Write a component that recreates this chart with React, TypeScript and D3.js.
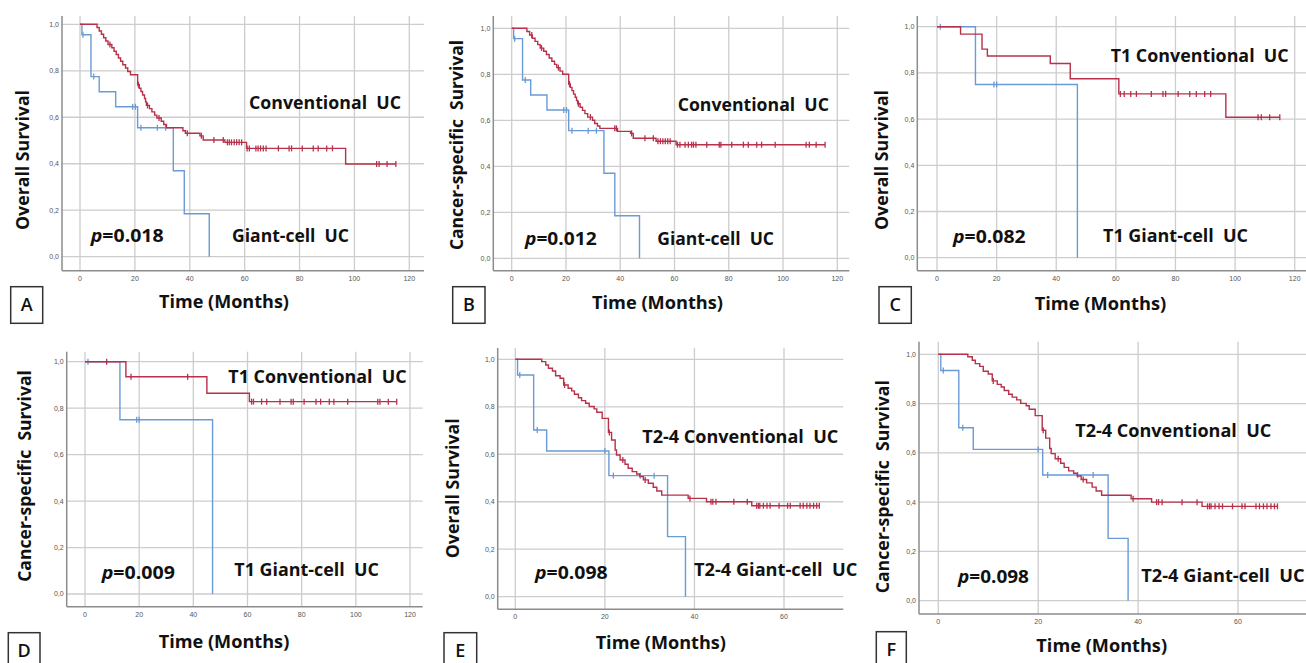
import React from "react";
import * as d3 from "d3";

type Step = [number, number];

// Giant-cell UC, all stages (A, B)
const giantSteps: Step[] = [[0, 1], [0.7, 0.955], [4, 0.775], [7, 0.71], [13, 0.645], [21, 0.555], [34, 0.37], [38, 0.185], [47.1, 0]];
const giantCensored = [1.1, 5, 19.2, 20.2, 22.2, 28.2, 31.2];

// Conventional UC, overall survival (A)
const convOsSteps: Step[] = [
  [0, 1], [6.2, 0.986], [7, 0.971], [7.8, 0.957], [8.6, 0.942], [9.4, 0.928], [10.2, 0.913], [11.6, 0.899],
  [12.4, 0.884], [13.2, 0.87], [14, 0.855], [14.8, 0.841], [15.6, 0.826], [16.6, 0.812], [17.4, 0.797], [18.4, 0.783],
  [21, 0.74], [21.6, 0.725], [22.2, 0.711], [22.8, 0.696], [23.5, 0.681], [23.9, 0.666], [24.2, 0.651], [25.3, 0.637],
  [26.2, 0.623], [27.2, 0.609], [28, 0.597], [29.6, 0.583], [30.5, 0.569], [31.5, 0.555], [37.5, 0.542], [38.4, 0.531],
  [43.7, 0.52], [44.9, 0.502], [52.8, 0.492], [60.7, 0.466], [96.8, 0.399],
];
const convOsCensored = [
  10.9, 21.3, 24.6, 28.8, 39.1, 44.2, 48.8, 52.2, 53.7, 54.4, 55.2, 56.2, 57.1, 58, 58.9, 60.9, 61.7, 64.1, 64.9,
  65.8, 66.8, 67.8, 72.3, 76.2, 77.1, 81, 85, 86.8, 89.9, 92, 108.1, 109, 111.9, 115.1,
];

// Conventional UC, cancer-specific survival (B)
const convCssSteps: Step[] = [
  [0, 1], [5.6, 0.986], [6.6, 0.971], [7.6, 0.957], [8.6, 0.943], [9.6, 0.929], [10.5, 0.914], [11.8, 0.9],
  [12.8, 0.886], [13.8, 0.871], [14.8, 0.857], [15.8, 0.843], [16.6, 0.829], [17.8, 0.814], [18.8, 0.8],
  [21, 0.758], [21.6, 0.743], [22.2, 0.729], [22.8, 0.714], [23.4, 0.7], [23.9, 0.686], [24.3, 0.672], [25.2, 0.657],
  [26.1, 0.643], [27, 0.629], [28, 0.614], [29.8, 0.6], [30.6, 0.586], [31.6, 0.575], [32.5, 0.565], [39, 0.552],
  [43.8, 0.543], [44.8, 0.522], [53.2, 0.509], [60.6, 0.494],
];
const convCssCensored = [
  7.4, 11, 17.2, 21.3, 24.6, 29, 38, 38.6, 44.2, 49.1, 52.2, 53.9, 54.8, 55.7, 56.6, 57.5, 58.4, 61.1, 62, 63.9,
  65.1, 66.3, 67, 67.9, 71.9, 76.5, 77.1, 81.1, 85.4, 87.2, 90.3, 92.1, 97.1, 108.5, 109.7, 112.2, 115.5,
];

// T1 giant-cell UC (C, D)
const t1GiantSteps: Step[] = [[0, 1], [12.9, 0.75], [47.1, 0]];
const t1GiantCensored = [1.1, 19.1, 20];

// T1 conventional UC, overall survival (C)
const t1ConvOsSteps: Step[] = [[0, 1], [7.9, 0.968], [15.1, 0.903], [16.9, 0.873], [38, 0.841], [44.7, 0.775], [61, 0.709], [96.9, 0.608]];
const t1ConvOsCensored = [61.5, 62.8, 65, 66.9, 71.9, 75.8, 76.7, 80.9, 84.8, 87, 89.8, 91.8, 107.7, 108.8, 111.6, 115];

// T1 conventional UC, cancer-specific survival (D)
const t1ConvCssSteps: Step[] = [[0, 1], [15.1, 0.935], [45, 0.864], [60.7, 0.828]];
const t1ConvCssCensored = [
  8, 17, 37.9, 61.5, 62.2, 65.2, 67.1, 72, 76.1, 76.9, 80.9, 85.3, 87, 90.2, 91.9, 97, 108.1, 108.9, 112, 115.1,
];

// T2-4 giant-cell UC (E, F)
const t24GiantSteps: Step[] = [[0, 1], [0.5, 0.934], [4.1, 0.702], [7, 0.614], [20.9, 0.51], [34, 0.253], [38, 0]];
const t24GiantCensored = [1, 4.9, 20, 21.9, 27.9, 31];

// T2-4 conventional UC (E, F)
const t24ConvSteps: Step[] = [
  [0, 1], [5.9, 0.99], [6.8, 0.976], [7.4, 0.962], [8.3, 0.951], [9, 0.931], [10, 0.92], [10.8, 0.892], [11.8, 0.878],
  [12.6, 0.867], [13.2, 0.853], [14.1, 0.838], [14.8, 0.826], [15.7, 0.815], [16.5, 0.801], [17.6, 0.791], [18.2, 0.777],
  [19.4, 0.751], [20.8, 0.692], [21.5, 0.66], [22.3, 0.618], [22.6, 0.597], [23.4, 0.576], [24.5, 0.558], [25.2, 0.541],
  [26.1, 0.527], [27.1, 0.517], [27.8, 0.506], [28.6, 0.492], [29.7, 0.478], [30.8, 0.461], [31.6, 0.445], [32.7, 0.428],
  [38.6, 0.414], [42.7, 0.4], [52.8, 0.383],
];
const t24ConvCensored = [
  11, 21, 24, 29, 39, 43.7, 44.1, 44.8, 48.8, 51.8, 53.9, 54.3, 54.6, 55.4, 56.2, 56.9, 58.9, 60.8, 61.4, 63.6,
  64.3, 65.1, 65.8, 66.6, 67.3, 67.9,
];

const yTicks = [0, 0.2, 0.4, 0.6, 0.8, 1];
const xTicksLong = [0, 20, 40, 60, 80, 100, 120];
const xTicksShort = [0, 20, 40, 60];

const RED = "#b8304a";
const BLUE = "#6b9bd6";
const GRID = "#cdcdcd";
const AXIS = "#8c8c8c";
const FONT = "'Open Sans', Lato, sans-serif";

const fmtComma = d3.formatLocale({ decimal: ",", thousands: ".", grouping: [3], currency: ["", ""] }).format(".1f");

const panels = [
  {
    id: "A", yTitle: "Overall Survival", conv: convOsSteps, convCens: convOsCensored, giant: giantSteps, giantCens: giantCensored,
    convLabel: "Conventional  UC", giantLabel: "Giant-cell  UC", p: "0.018", xTicks: xTicksLong,
    L: { axisX: 62, x0: 80, xEndPx: 409.3, gridRight: 424, top: 16, y1: 24.3, y0: 256.7, bottom: 270.7,
      yT: [21.7, 160, 140], xT: [224, 308.3, 130], cT: [249, 109, 152], pT: [90.7, 241.7, 73], gT: [232, 241.7, 117], box: [10.7, 286.7, 32, 36.6] },
  },
  {
    id: "B", yTitle: "Cancer-specific  Survival", conv: convCssSteps, convCens: convCssCensored, giant: giantSteps, giantCens: giantCensored,
    convLabel: "Conventional  UC", giantLabel: "Giant-cell  UC", p: "0.012", xTicks: xTicksLong,
    L: { axisX: 493.3, x0: 511.7, xEndPx: 837.3, gridRight: 849.3, top: 16, y1: 28.3, y0: 258.3, bottom: 270.7,
      yT: [455.7, 145, 210], xT: [657.5, 309.3, 131], cT: [677.7, 111, 151.3], pT: [525, 245, 71.7], gT: [657.3, 245, 116.7], box: [452.7, 286.7, 32.3, 36.6] },
  },
  {
    id: "C", yTitle: "Overall Survival", conv: t1ConvOsSteps, convCens: t1ConvOsCensored, giant: t1GiantSteps, giantCens: t1GiantCensored,
    convLabel: "T1 Conventional  UC", giantLabel: "T1 Giant-cell  UC", p: "0.082", xTicks: xTicksLong,
    L: { axisX: 917.3, x0: 937, xEndPx: 1294.7, gridRight: 1306, top: 16, y1: 26.7, y0: 257.7, bottom: 270.7,
      yT: [881.3, 160, 140], xT: [1100.5, 310, 131.6], cT: [1110.7, 61.7, 178], pT: [953, 243.3, 72.7], gT: [1103, 242.3, 145], box: [879, 286.7, 32.3, 36.6] },
  },
  {
    id: "D", yTitle: "Cancer-specific  Survival", conv: t1ConvCssSteps, convCens: t1ConvCssCensored, giant: t1GiantSteps, giantCens: t1GiantCensored,
    convLabel: "T1 Conventional  UC", giantLabel: "T1 Giant-cell  UC", p: "0.009", xTicks: xTicksLong,
    L: { axisX: 66.7, x0: 85, xEndPx: 410, gridRight: 422.7, top: 351.7, y1: 361.7, y0: 594, bottom: 606.7,
      yT: [24.5, 476, 211.7], xT: [224, 648.3, 130.6], cT: [228.3, 382.7, 178.4], pT: [101.7, 579.3, 73.3], gT: [234.3, 575.7, 144.7], box: [8.3, 632.7, 31.7, 40] },
  },
  {
    id: "E", yTitle: "Overall Survival", conv: t24ConvSteps, convCens: t24ConvCensored, giant: t24GiantSteps, giantCens: t24GiantCensored,
    convLabel: "T2-4 Conventional  UC", giantLabel: "T2-4 Giant-cell  UC", p: "0.098", xTicks: xTicksShort,
    L: { axisX: 497.7, x0: 515.3, xEndPx: 784, gridRight: 843.3, top: 348, y1: 359.3, y0: 596.7, bottom: 609.3,
      yT: [452, 488.3, 140], xT: [660.8, 649.3, 130.3], cT: [642.3, 443.3, 196], pT: [535, 579.3, 72.7], gT: [694, 575.7, 163.3], box: [444, 632.7, 32.7, 40] },
  },
  {
    id: "F", yTitle: "Cancer-specific  Survival", conv: t24ConvSteps, convCens: t24ConvCensored, giant: t24GiantSteps, giantCens: t24GiantCensored,
    convLabel: "T2-4 Conventional  UC", giantLabel: "T2-4 Giant-cell  UC", p: "0.098", xTicks: xTicksShort,
    L: { axisX: 919, x0: 938.3, xEndPx: 1238, gridRight: 1306, top: 341.7, y1: 354.3, y0: 600.7, bottom: 614,
      yT: [882, 486.7, 213.3], xT: [1101.7, 651.7, 130.7], cT: [1075.3, 436.7, 196], pT: [958, 583.3, 71], gT: [1141.3, 581.7, 163.4], box: [876.3, 631.7, 30, 40] },
  },
];

function survAt(steps: Step[], t: number) {
  let s = steps[0][1];
  for (const [time, v] of steps) if (time <= t) s = v;
  return s;
}

function Curve({ steps, cens, x, y, color }: any) {
  const last = steps[steps.length - 1];
  const end = Math.max(last[0], ...cens);
  const pts: Step[] = last[1] === 0 ? steps : [...steps, [end, last[1]]];
  const line = d3.line<Step>().x((d) => x(d[0])).y((d) => y(d[1])).curve(d3.curveStepAfter);
  return (
    <g>
      <path d={line(pts) || ""} fill="none" stroke={color} strokeWidth={1.4} />
      {cens.map((t: number, i: number) => {
        const cy = y(survAt(steps, t));
        return <line key={i} x1={x(t)} x2={x(t)} y1={cy - 3} y2={cy + 3} stroke={color} strokeWidth={1.3} />;
      })}
    </g>
  );
}

function Panel({ p }: any) {
  const L = p.L;
  const xEnd = p.xTicks[p.xTicks.length - 1];
  const x = d3.scaleLinear().domain([0, xEnd]).range([L.x0, L.xEndPx]);
  const y = d3.scaleLinear().domain([0, 1]).range([L.y0, L.y1]);
  const bold = { fontFamily: FONT, fontWeight: 700, fill: "#111", whiteSpace: "pre" } as any;
  return (
    <g>
      {yTicks.map((t) => (
        <g key={"y" + t}>
          <line x1={L.axisX} x2={L.gridRight} y1={y(t)} y2={y(t)} stroke={GRID} strokeWidth={1.3} />
          <text x={L.axisX - 3} y={y(t)} dy="0.35em" textAnchor="end" fontSize={7} fill="#555" fontFamily="'Liberation Sans', Arial">
            {fmtComma(t)}
          </text>
        </g>
      ))}
      {p.xTicks.map((t: number) => (
        <g key={"x" + t}>
          <line x1={x(t)} x2={x(t)} y1={L.top} y2={L.bottom} stroke={GRID} strokeWidth={1.3} />
          <text x={x(t)} y={L.bottom + 10} textAnchor="middle" fontSize={7} fill="#555" fontFamily="'Liberation Sans', Arial">
            {t}
          </text>
        </g>
      ))}
      <line x1={L.axisX} x2={L.axisX} y1={L.top} y2={L.bottom} stroke={AXIS} strokeWidth={1.5} />
      <line x1={L.axisX} x2={L.gridRight} y1={L.bottom} y2={L.bottom} stroke={AXIS} strokeWidth={1.5} />

      <Curve steps={p.giant} cens={p.giantCens} x={x} y={y} color={BLUE} />
      <Curve steps={p.conv} cens={p.convCens} x={x} y={y} color={RED} />

      <text transform={`translate(${L.yT[0]},${L.yT[1]}) rotate(-90)`} dy="0.38em" textAnchor="middle" fontSize={18}
        textLength={L.yT[2]} lengthAdjust="spacingAndGlyphs" style={bold}>{p.yTitle}</text>
      <text x={L.xT[0]} y={L.xT[1]} textAnchor="middle" fontSize={18.5} textLength={L.xT[2]} lengthAdjust="spacingAndGlyphs" style={bold}>
        Time (Months)
      </text>
      <text x={L.cT[0]} y={L.cT[1]} fontSize={17.5} textLength={L.cT[2]} lengthAdjust="spacingAndGlyphs" style={bold}>{p.convLabel}</text>
      <text x={L.gT[0]} y={L.gT[1]} fontSize={17.5} textLength={L.gT[2]} lengthAdjust="spacingAndGlyphs" style={bold}>{p.giantLabel}</text>
      <text x={L.pT[0]} y={L.pT[1]} fontSize={17.5} textLength={L.pT[2]} lengthAdjust="spacingAndGlyphs" style={bold}>
        <tspan fontStyle="italic">p</tspan>=0.{p.p.slice(2)}
      </text>

      <rect x={L.box[0]} y={L.box[1]} width={L.box[2]} height={L.box[3]} fill="#fff" stroke="#333" strokeWidth={1.5} />
      <text x={L.box[0] + L.box[2] / 2} y={L.box[1] + 24} textAnchor="middle" fontSize={18} fontFamily={FONT} fontWeight={600} fill="#111">
        {p.id}
      </text>
    </g>
  );
}

export default function App() {
  return (
    <svg width={1306} height={663} style={{ position: "absolute", left: 0, top: 0, background: "#fff" }}>
      {panels.map((p) => (
        <Panel key={p.id} p={p} />
      ))}
    </svg>
  );
}
